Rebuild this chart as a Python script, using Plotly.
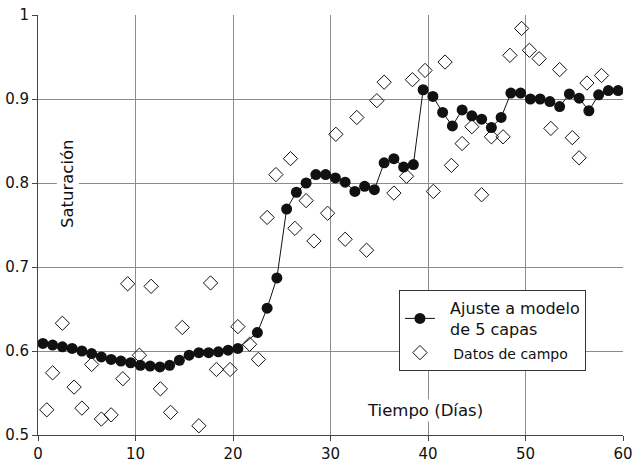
import plotly.graph_objects as go

# Model fit ("Ajuste a modelo de 5 capas")
model_x = [0.5, 1.5, 2.5, 3.5, 4.5, 5.5, 6.5, 7.5, 8.5, 9.5, 10.5, 11.5, 12.5, 13.5,
           14.5, 15.5, 16.5, 17.5, 18.5, 19.5, 20.5, 22.5, 23.5, 24.5, 25.5, 26.5,
           27.5, 28.5, 29.5, 30.5, 31.5, 32.5, 33.5, 34.5, 35.5, 36.5, 37.5, 38.5,
           39.5, 40.5, 41.5, 42.5, 43.5, 44.5, 45.5, 46.5, 47.5, 48.5, 49.5, 50.5,
           51.5, 52.5, 53.5, 54.5, 55.5, 56.5, 57.5, 58.5, 59.5]
model_y = [0.609, 0.607, 0.605, 0.603, 0.600, 0.597, 0.593, 0.590, 0.588, 0.586,
           0.583, 0.582, 0.581, 0.583, 0.589, 0.595, 0.598, 0.598, 0.599, 0.601,
           0.603, 0.622, 0.651, 0.687, 0.769, 0.789, 0.800, 0.810, 0.810, 0.806,
           0.801, 0.790, 0.796, 0.792, 0.824, 0.829, 0.819, 0.822, 0.911, 0.903,
           0.884, 0.868, 0.887, 0.880, 0.876, 0.866, 0.878, 0.907, 0.907, 0.900,
           0.900, 0.897, 0.891, 0.906, 0.901, 0.886, 0.905, 0.910, 0.910]

# Field data ("Datos de campo")
field_x = [0.9, 1.5, 2.5, 3.7, 4.5, 5.5, 6.5, 7.5, 8.7, 9.2, 10.4, 11.6, 12.55,
           13.6, 14.8, 16.5, 17.7, 18.3, 19.7, 20.5, 21.7, 22.6, 23.5, 24.4, 25.9,
           26.35, 27.5, 28.3, 29.7, 30.55, 31.5, 32.7, 33.7, 34.75, 35.5, 36.5,
           37.8, 38.4, 39.7, 40.55, 41.75, 42.4, 43.5, 44.5, 45.5, 46.5, 47.7,
           48.4, 49.6, 50.4, 51.4, 52.6, 53.5, 54.8, 55.5, 56.3, 57.8]
field_y = [0.530, 0.574, 0.633, 0.557, 0.532, 0.584, 0.519, 0.524, 0.567, 0.680,
           0.595, 0.677, 0.555, 0.527, 0.628, 0.511, 0.681, 0.578, 0.578, 0.629,
           0.608, 0.590, 0.759, 0.810, 0.829, 0.746, 0.779, 0.731, 0.764, 0.858,
           0.733, 0.878, 0.720, 0.898, 0.920, 0.788, 0.808, 0.923, 0.934, 0.790,
           0.944, 0.821, 0.847, 0.867, 0.786, 0.855, 0.855, 0.952, 0.984, 0.958,
           0.948, 0.865, 0.935, 0.854, 0.830, 0.919, 0.928]

x_ticks = [0, 10, 20, 30, 40, 50, 60]
y_ticks = [0.5, 0.6, 0.7, 0.8, 0.9, 1.0]
y_ticktext = ["0.5", "0.6", "0.7", "0.8", "0.9", "1"]

FONT = "DejaVu Sans"
SP2 = "\u00a0\u00a0"
SP3 = "\u00a0\u00a0\u00a0"

fig = go.Figure()
fig.add_trace(go.Scatter(
    x=model_x, y=model_y, mode="lines+markers",
    name=SP2 + "Ajuste a modelo<br>" + SP2 + "de 5 capas",
    line=dict(color="#111111", width=1),
    marker=dict(symbol="circle", size=11, color="#111111"),
))
fig.add_trace(go.Scatter(
    x=field_x, y=field_y, mode="markers",
    name="<span style='font-size:14px'>" + SP3 + "Datos de campo</span>",
    marker=dict(symbol="diamond-open", size=11, color="#111111",
                line=dict(width=1, color="#111111")),
))

fig.add_annotation(x=3.1, y=0.799, xref="x", yref="y", text="Saturación",
                   textangle=-90, showarrow=False, bgcolor="white",
                   font=dict(family=FONT, size=16.5, color="#111111"))
fig.add_annotation(x=39.7, y=0.529, xref="x", yref="y", text="Tiempo (Días)",
                   showarrow=False, bgcolor="white",
                   font=dict(family=FONT, size=16.5, color="#111111"))

fig.update_layout(
    width=633, height=462,
    margin=dict(l=37.5, r=9.7, t=15, b=27),
    paper_bgcolor="white", plot_bgcolor="white",
    font=dict(family=FONT, size=15, color="#111111"),
    showlegend=True,
    legend=dict(x=0.617, y=0.345, xanchor="left", yanchor="top",
                bgcolor="white", bordercolor="#333333", borderwidth=1,
                font=dict(family=FONT, size=16, color="#111111"),
                tracegroupgap=2, itemwidth=30),
)
fig.update_xaxes(range=[0, 60], tickvals=x_ticks, ticktext=[str(v) for v in x_ticks],
                 showgrid=True, gridcolor="#8c8c8c", gridwidth=1,
                 showline=True, linecolor="#444444", linewidth=1,
                 ticks="outside", ticklen=5, tickcolor="#444444",
                 zeroline=False, mirror=False, automargin=False)
fig.update_yaxes(range=[0.5, 1.0], tickvals=y_ticks, ticktext=y_ticktext,
                 showgrid=True, gridcolor="#8c8c8c", gridwidth=1,
                 showline=True, linecolor="#444444", linewidth=1,
                 ticks="outside", ticklen=5, tickcolor="#444444",
                 zeroline=False, mirror=False, automargin=False)

fig.write_html("out.html", config={"displayModeBar": False},
               post_script="document.body.style.margin='0px';")
